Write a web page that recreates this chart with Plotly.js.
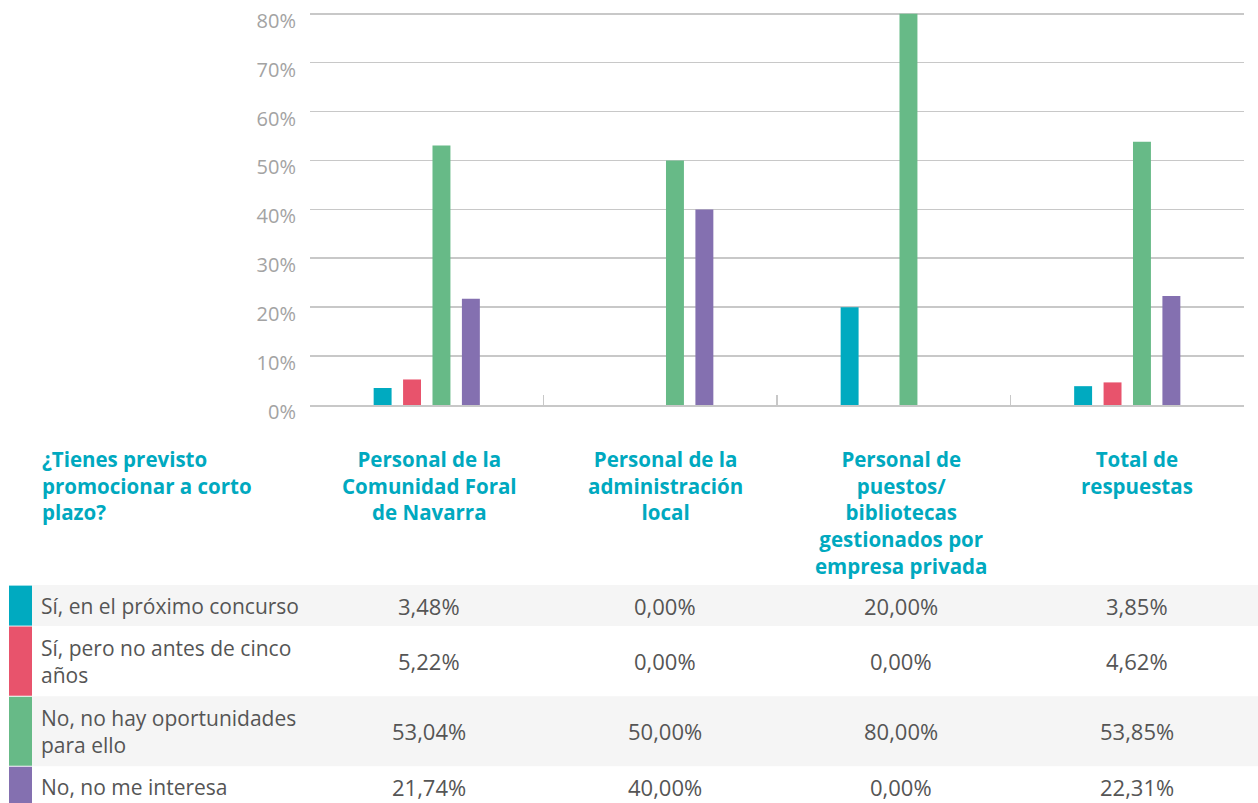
<!DOCTYPE html>
<html>
<head>
<meta charset="utf-8">
<script src="https://cdn.plot.ly/plotly-3.0.1.min.js"></script>
<style>html,body{margin:0;padding:0;background:#fff;}#chart{width:1258px;height:803px;}</style>
</head>
<body>
<div id="chart"></div>
<script>
// ---- data ----
const categories = [
  'Personal de la Comunidad Foral de Navarra',
  'Personal de la administración local',
  'Personal de puestos/ bibliotecas gestionados por empresa privada',
  'Total de respuestas'
];
const categoryLabels = [
  'Personal de la<br>Comunidad Foral<br>de Navarra',
  'Personal de la<br>administración<br>local',
  'Personal de<br>puestos/<br>bibliotecas<br>gestionados por<br>empresa privada',
  'Total de<br>respuestas'
];
const questionLabel = '¿Tienes previsto<br>promocionar a corto<br>plazo?';
const seriesNames = [
  'Sí, en el próximo concurso',
  'Sí, pero no antes de cinco años',
  'No, no hay oportunidades para ello',
  'No, no me interesa'
];
const seriesRowLabels = [
  'Sí, en el próximo concurso',
  'Sí, pero no antes de cinco<br>años',
  'No, no hay oportunidades<br>para ello',
  'No, no me interesa'
];
const siProximo = [3.48, 0.00, 20.00, 3.85];
const siNoAntes = [5.22, 0.00, 0.00, 4.62];
const noOportunidades = [53.04, 50.00, 80.00, 53.85];
const noInteresa = [21.74, 40.00, 0.00, 22.31];
const seriesValues = [siProximo, siNoAntes, noOportunidades, noInteresa];
const yTickValues = [0, 10, 20, 30, 40, 50, 60, 70, 80];
const yTickLabels = ['0%', '10%', '20%', '30%', '40%', '50%', '60%', '70%', '80%'];

// ---- style ----
const colors = ['#00aac0', '#e8536c', '#67ba87', '#8470b0'];
const W = 1258, H = 803;
const yMax = 82;                       // axis top (80% gridline sits at 14px)
const plotL = 310, plotR = 1244, plotB = 405;
const pxPerUnit = (405 - 14) / 80;
const plotT = plotB - yMax * pxPerUnit;
const pw = plotR - plotL, ph = plotB - plotT;
const px2x = p => (p - plotL) / pw;
const py2y = p => (plotB - p) / ph;
const FONT = '"Open Sans", "Noto Sans", sans-serif';
const teal = '#00a9bf';
const textGray = '#555555';
// table column centres (pixels)
const colCenter = j => 429 + 236 * j;

const traces = seriesNames.map((name, i) => ({
  type: 'bar',
  name: name,
  x: categories,
  y: seriesValues[i],
  marker: {color: colors[i]},
  hoverinfo: 'name+y'
}));

const annotations = [];
const shapes = [];

// header
const headTop = 443;
annotations.push({
  xref: 'paper', yref: 'paper', x: px2x(40), y: py2y(headTop),
  xanchor: 'left', yanchor: 'top', align: 'left', showarrow: false,
  text: '<b>' + questionLabel + '</b>',
  font: {family: FONT, size: 20.5, color: teal}
});
categoryLabels.forEach((lab, j) => {
  annotations.push({
    xref: 'paper', yref: 'paper', x: px2x(colCenter(j)), y: py2y(headTop),
    xanchor: 'center', yanchor: 'top', align: 'center', showarrow: false,
    text: '<b>' + lab + '</b>',
    font: {family: FONT, size: 20.5, color: teal}
  });
});

// table rows
const fmt = v => v.toFixed(2).replace('.', ',') + '%';
let rowTop = 585;
const lineH = 29;
seriesNames.forEach((name, i) => {
  const nLines = seriesRowLabels[i].split('<br>').length;
  const h = 41 + lineH * (nLines - 1);
  const mid = rowTop + h / 2;
  if (i % 2 === 0) {
    shapes.push({type: 'rect', xref: 'paper', yref: 'paper', layer: 'below',
      x0: px2x(32), x1: px2x(W + 5), y0: py2y(rowTop), y1: py2y(rowTop + h),
      fillcolor: '#f5f5f5', line: {width: 0}});
  }
  shapes.push({type: 'rect', xref: 'paper', yref: 'paper', layer: 'below',
    x0: px2x(9), x1: px2x(32), y0: py2y(rowTop + 0.5), y1: py2y(rowTop + h - 0.5),
    fillcolor: colors[i], line: {width: 0}});
  annotations.push({
    xref: 'paper', yref: 'paper', x: px2x(39), y: py2y(mid),
    xanchor: 'left', yanchor: 'middle', align: 'left', showarrow: false,
    text: seriesRowLabels[i], font: {family: FONT, size: 21, color: textGray}
  });
  seriesValues[i].forEach((v, j) => {
    annotations.push({
      xref: 'paper', yref: 'paper', x: px2x(colCenter(j)), y: py2y(mid),
      xanchor: 'center', yanchor: 'middle', showarrow: false,
      text: fmt(v), font: {family: FONT, size: 22, color: textGray}
    });
  });
  rowTop += h;
});

const layout = {
  width: W, height: H,
  margin: {l: plotL, r: W - plotR, t: plotT, b: H - plotB, pad: 0},
  paper_bgcolor: '#ffffff', plot_bgcolor: '#ffffff',
  showlegend: false,
  barmode: 'group',
  bargap: 0.496,
  bargroupgap: 0.39,
  font: {family: FONT},
  xaxis: {
    type: 'category',
    showticklabels: false,
    showgrid: false,
    showline: true, linecolor: '#c8c8c8', linewidth: 2,
    ticks: 'inside', tickson: 'boundaries', ticklen: 10, tickcolor: '#c8c8c8', tickwidth: 1.5,
    fixedrange: true
  },
  yaxis: {
    range: [0, yMax],
    tickvals: yTickValues, ticktext: yTickLabels,
    showgrid: true, gridcolor: '#c8c8c8', gridwidth: 1.6,
    zeroline: false, showline: false,
    ticks: '', ticklabelstandoff: 13, ticklabelshift: 7,
    tickfont: {family: FONT, size: 20, color: '#a3a3a3'},
    fixedrange: true
  },
  annotations: annotations,
  shapes: shapes
};

Plotly.newPlot('chart', traces, layout, {displayModeBar: false, staticPlot: true});
</script>
</body>
</html>
